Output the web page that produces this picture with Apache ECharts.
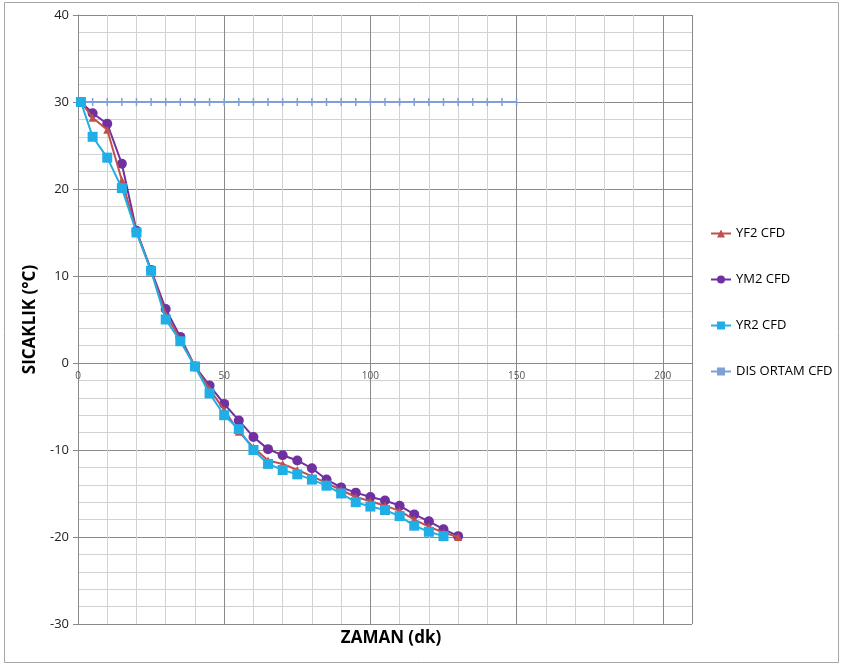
<!DOCTYPE html>
<html>
<head>
<meta charset="utf-8">
<script src="https://cdn.jsdelivr.net/npm/echarts@6/dist/echarts.min.js"></script>
<style>
  html, body { margin: 0; padding: 0; background: #fff; }
  #chart { width: 843px; height: 665px; }
</style>
</head>
<body>
<div id="chart"></div>
<script>
// zaman (dk)
var times = [1, 5, 10, 15, 20, 25, 30, 35, 40, 45, 50, 55, 60, 65, 70, 75, 80, 85, 90, 95, 100, 105, 110, 115, 120, 125, 130];

// sicaklik degerleri
var yf2 = [30, 28.2, 26.8, 21, 15.1, 10.6, 5.6, 2.7, -0.4, -3.0, -5.4, -7.9, -9.7, -11.2, -11.6, -12.3, -13.0, -13.8, -14.6, -15.4, -15.9, -16.4, -17.0, -18.0, -18.8, -19.5, -20.0];
var ym2 = [30, 28.7, 27.5, 22.9, 15.2, 10.7, 6.2, 3.0, -0.4, -2.6, -4.7, -6.6, -8.5, -9.9, -10.6, -11.2, -12.1, -13.4, -14.3, -14.9, -15.4, -15.8, -16.4, -17.4, -18.2, -19.1, -19.9];
var yr2 = [30, 26, 23.6, 20.1, 15, 10.6, 5, 2.5, -0.4, -3.5, -6, -7.6, -10, -11.6, -12.3, -12.8, -13.4, -14.1, -15, -16, -16.5, -16.9, -17.6, -18.7, -19.4, -19.9];

// dis ortam
var disTimes = [0, 5, 10, 15, 20, 25, 30, 35, 40, 45, 50, 55, 60, 65, 70, 75, 80, 85, 90, 95, 100, 105, 110, 115, 120, 125, 130, 135, 140, 145, 150];
var disOrtam = [30, 30, 30, 30, 30, 30, 30, 30, 30, 30, 30, 30, 30, 30, 30, 30, 30, 30, 30, 30, 30, 30, 30, 30, 30, 30, 30, 30, 30, 30, 30];

var names = ['YF2 CFD', 'YM2 CFD', 'YR2 CFD', 'DIS ORTAM CFD'];

// eslestir
var pairs = function(xs, ys) {
    var out = [];
    for (var i = 0; i < ys.length; i++) out.push([xs[i], ys[i]]);
    return out;
};

var font = 'Open Sans, Liberation Sans, sans-serif';
var major = '#8a8a8a', minor = '#d2d2d2';

var chart = echarts.init(document.getElementById('chart'));

chart.setOption({
    animation: false,
    backgroundColor: '#fff',
    textStyle: { fontFamily: font },

    // x ekseni basligi
    title: {
        text: 'ZAMAN (dk)',
        left: 386,
        textAlign: 'center',
        top: 625,
        textStyle: { fontSize: 17, fontWeight: 'bold', color: '#000', fontFamily: font }
    },

    // cerceve
    graphic: [{
        type: 'rect',
        shape: { x: 4.5, y: 2.5, width: 834, height: 660 },
        style: { fill: 'none', stroke: '#a6a6a6', lineWidth: 1 },
        silent: true
    }],

    grid: { left: 78, right: 151, top: 15, bottom: 41 },

    legend: {
        orient: 'vertical',
        left: 705,
        top: 222,
        itemGap: 33,
        itemWidth: 20,
        itemHeight: 10,
        data: names,
        textStyle: { fontFamily: font, fontSize: 13, color: '#000' }
    },

    xAxis: {
        type: 'value',
        min: 0,
        max: 210,
        interval: 50,
        position: 'bottom',
        // sifir cizgisine tasi
        offset: -261,
        axisLine: { show: true, onZero: false, lineStyle: { color: major, width: 1 } },
        axisTick: { show: false },
        axisLabel: { fontSize: 10, color: '#555', margin: 8, showMaxLabel: false },
        splitLine: { show: true, lineStyle: { color: major, width: 1 } },
        minorTick: { show: false, splitNumber: 5 },
        minorSplitLine: { show: true, lineStyle: { color: minor, width: 1 } }
    },

    yAxis: {
        type: 'value',
        min: -30,
        max: 40,
        interval: 10,
        name: 'SICAKLIK (°C)',
        nameLocation: 'middle',
        nameGap: 39,
        nameTextStyle: { fontSize: 17, fontWeight: 'bold', color: '#000', fontFamily: font },
        axisLine: { show: true, onZero: false, lineStyle: { color: major, width: 1 } },
        axisTick: { show: true, length: 5, lineStyle: { color: major } },
        axisLabel: { fontSize: 13, color: '#222', margin: 9 },
        splitLine: { show: true, lineStyle: { color: major, width: 1 } },
        minorTick: { show: false, splitNumber: 5 },
        minorSplitLine: { show: true, lineStyle: { color: minor, width: 1 } }
    },

    series: [{
        name: names[0],
        type: 'line',
        data: pairs(times, yf2),
        symbol: 'triangle',
        symbolSize: 8,
        color: '#C0504D',
        lineStyle: { width: 2 },
        z: 3
    }, {
        name: names[1],
        type: 'line',
        data: pairs(times, ym2),
        symbol: 'circle',
        symbolSize: 10,
        color: '#7030A0',
        lineStyle: { width: 2 },
        z: 2
    }, {
        name: names[2],
        type: 'line',
        data: pairs(times, yr2),
        symbol: 'rect',
        symbolSize: 10,
        color: '#1FAEE6',
        lineStyle: { width: 2 },
        z: 4
    }, {
        name: names[3],
        type: 'line',
        data: pairs(disTimes, disOrtam),
        symbol: 'rect',
        symbolSize: [1.5, 8],
        color: '#7F9FD6',
        lineStyle: { width: 2 },
        z: 1
    }]
});
</script>
</body>
</html>
